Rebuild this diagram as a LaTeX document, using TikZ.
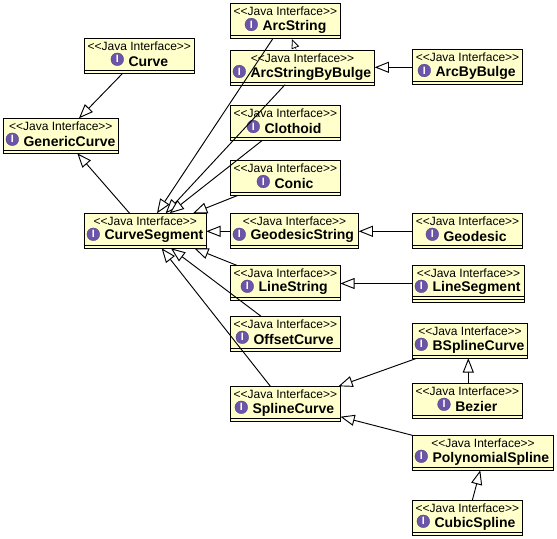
\documentclass[tikz,border=0pt]{standalone}
\usepackage{fontspec}
\setmainfont{Liberation Sans}
\usetikzlibrary{arrows.meta}
\definecolor{boxfill}{HTML}{FFFFCC}
\definecolor{iconfill}{HTML}{6A55A8}
\tikzset{
  x=0.75pt,y=-0.75pt,
  classbox/.style={draw=black,line width=0.75pt,fill=boxfill,anchor=north west,inner sep=0pt,outer sep=0pt},
  stereo/.style={font=\fontsize{9pt}{10pt}\selectfont,inner sep=0pt,text=black},
  cname/.style={font=\fontsize{10.5pt}{11pt}\selectfont\bfseries,inner sep=0pt,anchor=west,text=black},
  iconnode/.style={circle,fill=iconfill,draw=iconfill!70!black,line width=0.2pt,minimum size=9.6pt,inner sep=0pt,text=white,font=\fontsize{8pt}{8pt}\selectfont\bfseries,anchor=center},
  gen/.style={draw=black,line width=0.7pt,-{Triangle[open,fill=white,length=10.7pt,width=8.3pt]}},
  gensmall/.style={draw=black,line width=0.6pt,densely dotted,-{Triangle[open,fill=white,length=7pt,width=6pt]}}
}
% \umlbox{name}{x0}{y0}{x1}{y1}{icon centre x}{text}
\newcommand{\umlbox}[7]{%
  \node[classbox,minimum width={(#4-#2)*0.75pt},minimum height={(#5-#3)*0.75pt}] (#1) at (#2,#3) {};
  \draw[line width=0.75pt] ([yshift=2.1pt]#1.south west) -- ([yshift=2.1pt]#1.south east);
  \node[stereo] (#1s) at ({(#2+#4)/2},#3+7.9) {<{}<Java Interface>{}>};
  \node[iconnode] (#1i) at (#6,#3+21) {I};
  \node[cname] (#1n) at (#6+11,#3+23.1) {#7};
}
\begin{document}
\begin{tikzpicture}
\useasboundingbox (0,0) rectangle (557,539);
% boxes
\umlbox{curve}{84.3}{38.3}{194.3}{73.3}{117.3}{Curve}
\umlbox{generic}{3.3}{118.3}{118.3}{153.3}{12.3}{GenericCurve}
\umlbox{segment}{84.3}{213.3}{206.3}{248.3}{93.3}{CurveSegment}
\umlbox{arcstring}{230.4}{3.5}{340.4}{38.3}{251.3}{ArcString}
\umlbox{bulgestring}{230.4}{50.5}{374.7}{85.3}{239.3}{ArcStringByBulge}
\umlbox{arcbybulge}{412.3}{49.5}{522.7}{84.3}{424.3}{ArcByBulge}
\umlbox{clothoid}{230.4}{105.5}{340.4}{140.3}{253.3}{Clothoid}
\umlbox{conic}{230.4}{160.5}{340.4}{195.3}{263.3}{Conic}
\umlbox{geostring}{230.4}{213.3}{358.7}{248.3}{239.3}{GeodesicString}
\umlbox{geodesic}{412.3}{213.3}{522.7}{248.3}{432.3}{Geodesic}
\umlbox{linestring}{230.4}{265.3}{340.4}{300.3}{247.3}{LineString}
\umlbox{linesegment}{412.3}{265.3}{524.7}{302.3}{421.3}{LineSegment}
\draw[line width=0.75pt] ([yshift=4.2pt]linesegment.south west) -- ([yshift=4.2pt]linesegment.south east);
\umlbox{offset}{230.4}{316.3}{340.4}{351.3}{242.3}{OffsetCurve}
\umlbox{bspline}{412.3}{323.3}{527.7}{358.3}{421.3}{BSplineCurve}
\umlbox{bezier}{412.3}{383.3}{522.5}{418.3}{444}{Bezier}
\umlbox{spline}{230.4}{386.3}{340.4}{421.3}{241.3}{SplineCurve}
\umlbox{poly}{412.3}{435.3}{553.7}{470.3}{421.3}{PolynomialSpline}
\umlbox{cubic}{412.3}{500.3}{522.5}{535.3}{423.3}{CubicSpline}
% connectors: offsets (in px * 0.75pt) from the boxes' corners
\draw[gen] ([xshift=28.8pt]curve.south west) -- ([xshift=-4pt]generic.north -| curve.south west);
\draw[gen] ([xshift=34pt]segment.north west) -- ([xshift=55.5pt]generic.south west);
\draw[gen] ([xshift=32pt]arcstring.south west) -- ([xshift=54.5pt]segment.north west);
\draw[gen] ([xshift=41pt,yshift=0.5pt]bulgestring.south west) -- ([xshift=61pt]segment.north west);
\draw[gen] ([xshift=24pt]clothoid.south west) -- ([xshift=64pt]segment.north west);
\draw[gen] ([xshift=5.7pt]conic.south west) -- ([xshift=81.5pt]segment.north west);
\draw[gen] (geostring.west |- 0,231.3) -- (segment.east |- 0,231.3);
\draw[gen] ([xshift=4.7pt]linestring.north west) -- ([xshift=-9pt]segment.south east);
\draw[gen] ([xshift=23pt]offset.north west) -- ([xshift=65pt]segment.south west);
\draw[gen] ([xshift=30pt]spline.north west) -- ([xshift=58pt]segment.south west);
\draw[gen] (arcbybulge.west |- 0,67.3) -- (bulgestring.east |- 0,67.3);
\draw[gen] (geodesic.west |- 0,231.3) -- (geostring.east |- 0,231.3);
\draw[gen] (linesegment.west |- 0,283.5) -- (linestring.east |- 0,283.5);
\draw[gen] ([xshift=3.3pt]bspline.south west) -- ([xshift=-1.5pt]spline.north east);
\draw[gen] ([xshift=42pt]bezier.north west) -- ([xshift=42pt]bspline.south west);
\draw[gen] (poly.north west) -- ([yshift=3.45pt]spline.south east);
\draw[gen] ([xshift=45pt]cubic.north west) -- ([xshift=51pt]poly.south west);
\draw[gensmall] ([xshift=49.5pt]bulgestring.north west) -- ([xshift=46.2pt,yshift=-0.6pt]arcstring.south west);
\end{tikzpicture}
\end{document}
